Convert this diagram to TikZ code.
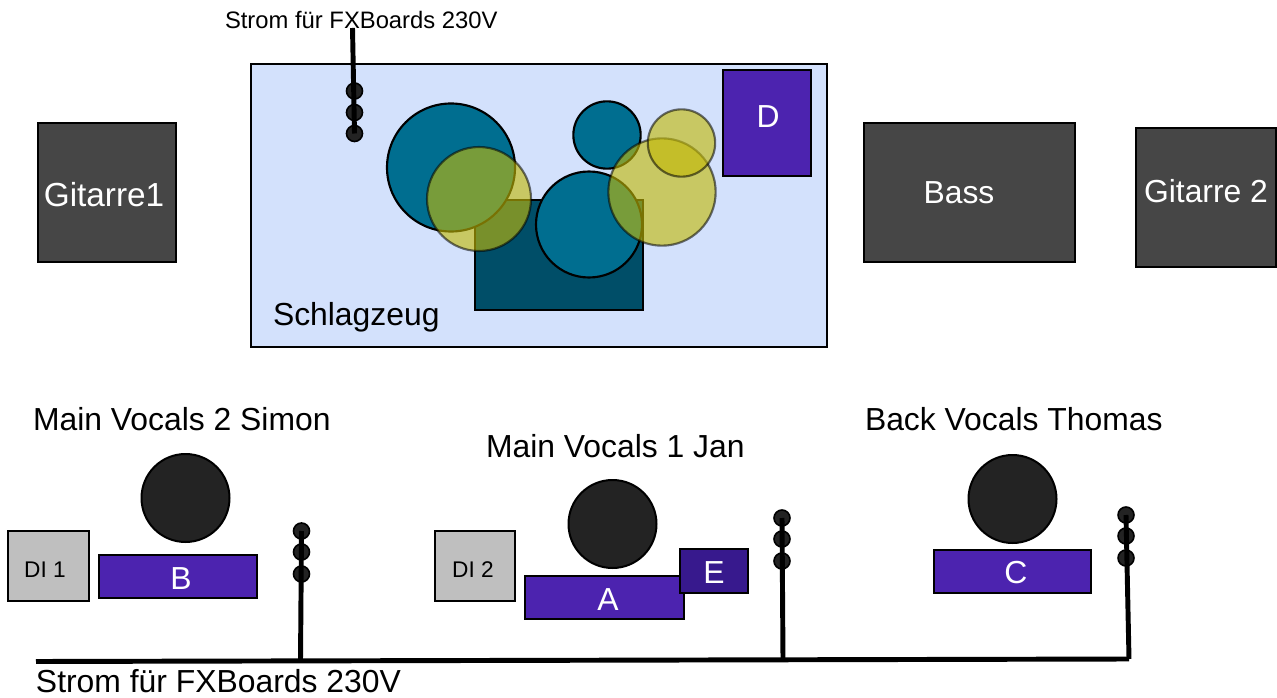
\documentclass[tikz,border=0pt]{standalone}
\usepackage{fontspec}
\setmainfont{Liberation Sans}
\definecolor{ampgrey}{HTML}{464646}
\definecolor{drumbg}{HTML}{D3E1FC}
\definecolor{teal}{HTML}{006E90}
\definecolor{darkteal}{HTML}{004E68}
\definecolor{cym}{HTML}{C2B906}
\definecolor{fxpurple}{HTML}{4C23AF}
\definecolor{fxdark}{HTML}{37198D}
\definecolor{digrey}{HTML}{BFBFBF}
\definecolor{headgrey}{HTML}{232323}
\tikzset{
  x=0.75pt,y=-0.75pt,
  every node/.style={inner sep=0pt,outer sep=0pt,font=\fontsize{23.9}{25}\selectfont},
  block/.style={draw=black,line width=1.5pt,rectangle,minimum width=#1},
  amp/.style={block=#1,fill=ampgrey},
  fx/.style={block=#1,fill=fxpurple},
  dibox/.style={block=#1,fill=digrey},
  whitelabel/.style={text=white},
  dilabel/.style={font=\fontsize{17}{18}\selectfont},
  drum/.style={circle,draw=black,line width=1.6pt,fill=teal,minimum size=#1},
  cymbal/.style={circle,draw=black,line width=1.6pt,fill=cym,fill opacity=0.62,draw opacity=0.55,minimum size=#1},
  head/.style={circle,draw=black,line width=1.5pt,fill=headgrey,minimum size=66pt},
  plug/.style={circle,draw=black,line width=1.2pt,fill=headgrey,minimum size=12pt},
  wire/.style={draw=black,line width=3.7pt},
  textlabel/.style={anchor=west},
}
\begin{document}
\begin{tikzpicture}
\useasboundingbox (0,0) rectangle (1277,698);
% amps
\node[amp=103.5pt,minimum height=104pt,label={[whitelabel,font=\fontsize{25}{26}\selectfont,xshift=-2.2pt,yshift=-1.2pt]center:Gitarre1}] (git1) at (107,192.5) {};
\node[amp=158pt,minimum height=104pt,label={[whitelabel,xshift=-7.9pt]center:Bass}] (bass) at (969.5,192.5) {};
\node[amp=105pt,minimum height=104pt,label={[whitelabel,yshift=4.9pt]center:Gitarre 2}] (git2) at (1206,197.5) {};
% drum area
\node[block=432pt,minimum height=212pt,fill=drumbg] (drums) at (539,205.5) {};
\node[textlabel] (drumlabel) at (273,317) {Schlagzeug};
\node[fx=66pt,minimum height=79.5pt,label={[whitelabel,yshift=4.5pt,xshift=0.8pt]center:D}] (D) at (767,123) {};
% top power
\node[plug] (tp1) at (354.5,91) {};
\node[plug] (tp2) at (354.5,112.5) {};
\node[plug] (tp3) at (354.5,133.5) {};
\node[textlabel,font=\fontsize{17.85}{19}\selectfont] (toplabel) at (225,20) {Strom für FXBoards 230V};
\coordinate (topstart) at (352.5,28);
\draw[wire] (topstart) -- (tp3.center);
% kit
\node[draw=black,line width=1.5pt,rectangle,fill=darkteal,minimum width=125.5pt,minimum height=82.5pt] (kick) at (559,255) {};
\node[drum=96pt] (tom1) at (451,167.5) {};
\node[drum=50.5pt] (tom2) at (607,135) {};
\node[drum=79.5pt] (tom3) at (589,224.5) {};
\node[cymbal=78pt] (cy1) at (479,199) {};
\node[cymbal=80.5pt] (cy2) at (662,192) {};
\node[cymbal=50.5pt] (cy3) at (681.5,143) {};
% singers
\node[textlabel] (v2) at (33,419) {Main Vocals 2 Simon};
\node[textlabel] (v1) at (486,446) {Main Vocals 1 Jan};
\node[textlabel] (v3) at (865,419) {Back Vocals Thomas};
\node[head] (h2) at (185.5,498) {};
\node[head] (h1) at (612.5,524) {};
\node[head] (h3) at (1012.5,499) {};
\node[dibox=60.5pt,minimum height=52.5pt,label={[dilabel,xshift=-2.6pt,yshift=-3pt]center:DI 1}] (di1) at (48.5,566) {};
\node[dibox=60pt,minimum height=52.5pt,label={[dilabel,xshift=-1.5pt,yshift=-3pt]center:DI 2}] (di2) at (475,566) {};
\node[fx=118.5pt,minimum height=32.5pt,label={[whitelabel,xshift=2.3pt,yshift=-1.9pt]center:B}] (B) at (178,576.5) {};
\node[fx=119pt,minimum height=32.5pt,label={[whitelabel,xshift=2.6pt,yshift=-1.9pt]center:A}] (A) at (604.5,597.5) {};
\node[fx=51pt,minimum height=33pt,fill=fxdark,label={[whitelabel,yshift=-1.5pt]center:E}] (E) at (714,571) {};
\node[fx=117.5pt,minimum height=32.5pt,label={[whitelabel,xshift=2.6pt,yshift=-1.1pt]center:C}] (C) at (1012.5,571.5) {};
% bottom power
\node[plug] (p11) at (301.5,531) {};
\node[plug] (p12) at (301.5,552) {};
\node[plug] (p13) at (301.5,574) {};
\node[plug] (p21) at (782,518) {};
\node[plug] (p22) at (782,539) {};
\node[plug] (p23) at (782,561) {};
\node[plug] (p31) at (1126,515) {};
\node[plug] (p32) at (1126,536) {};
\node[plug] (p33) at (1126,558) {};
\coordinate (busL) at (36,661.5);
\coordinate (bus1) at (300.5,661);
\coordinate (bus2) at (783,659.5);
\coordinate (busR) at (1129,659);
\draw[wire] (busL) -- (busR);
\draw[wire] (p11.center) -- (bus1);
\draw[wire] (p21.center) -- (bus2);
\draw[wire] (p31.center) -- (busR);
\node[textlabel] (botlabel) at (36,681) {Strom für FXBoards 230V};
\end{tikzpicture}
\end{document}
